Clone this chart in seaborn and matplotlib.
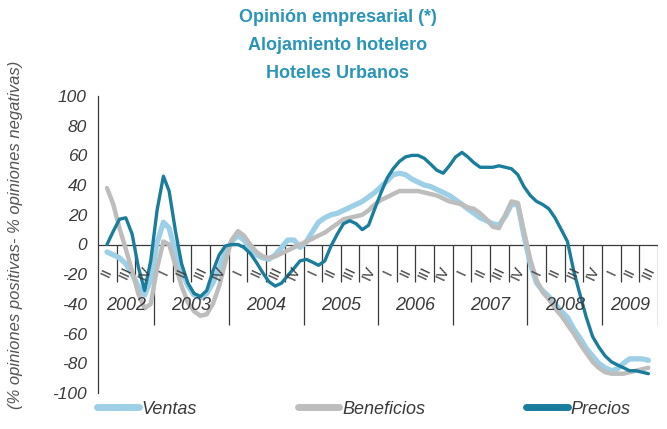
import matplotlib
matplotlib.use("Agg")
import matplotlib.pyplot as plt
import matplotlib.dates as mdates
from matplotlib.lines import Line2D
import numpy as np
import pandas as pd
import seaborn as sns

# ---------------------------------------------------------------------------
# Data (monthly, May 2002 - Aug 2009)
# ---------------------------------------------------------------------------
months = pd.date_range("2002-05-01", periods=88, freq="MS") + pd.Timedelta(days=14)

ventas = [
    -5, -7, -9, -13, -20, -28, -34, -24, 1, 15, 11, -5,
    -18, -28, -34, -36, -33, -26, -16, -5, 2, 6, 3, -3,
    -7, -9, -10, -7, -2, 3, 3, -2, 2, 9, 15, 18,
    20, 21, 23, 25, 27, 29, 32, 35, 39, 43, 47, 48,
    47, 44, 42, 40, 39, 37, 35, 33, 30, 27, 24, 21,
    18, 16, 14, 13, 19, 27, 27, 6, -13, -26, -31, -35,
    -40, -45, -49, -57, -63, -70, -75, -80, -83, -85, -84, -80,
    -77, -77, -77, -78,
]
beneficios = [
    38, 27, 11, -3, -18, -33, -43, -40, -16, 2, 0, -14,
    -28, -39, -45, -48, -47, -40, -28, -12, 3, 9, 6, 0,
    -5, -8, -9, -8, -6, -4, -2, 0, 2, 4, 6, 8,
    11, 14, 17, 18, 19, 20, 23, 27, 30, 32, 34, 36,
    36, 36, 36, 35, 34, 33, 31, 29, 28, 27, 25, 24,
    21, 17, 12, 11, 20, 29, 28, 9, -10, -24, -32, -37,
    -43, -48, -54, -60, -67, -73, -79, -83, -86, -87, -87, -87,
    -86, -85, -84, -83,
]
precios = [
    0, 9, 17, 18, 7, -15, -31, -11, 23, 46, 36, 9,
    -13, -26, -33, -35, -31, -18, -7, -1, 0, 0, -2, -6,
    -12, -19, -25, -28, -26, -21, -16, -11, -10, -12, -14, -11,
    -1, 7, 14, 16, 14, 10, 13, 24, 35, 45, 51, 56,
    59, 60, 60, 58, 54, 50, 48, 53, 59, 62, 59, 55,
    52, 52, 52, 53, 52, 51, 47, 39, 33, 29, 27, 24,
    18, 10, 2, -18, -34, -49, -62, -69, -75, -79, -81, -83,
    -85, -85, -86, -87,
]

series_names = ["Ventas", "Beneficios", "Precios"]
series_values = [ventas, beneficios, precios]
series_colors = ["#9dcfe6", "#bdbdbd", "#1b7d9c"]
series_widths = [3.8, 3.2, 2.4]

years = [2002, 2003, 2004, 2005, 2006, 2007, 2008, 2009]
quarter_names = ["I", "II", "III", "IV"]
x_start = pd.Timestamp("2002-04-01")
x_end = pd.Timestamp("2009-10-01")

title_lines = ["Opinión empresarial (*)", "Alojamiento hotelero", "Hoteles Urbanos"]
title_color = "#2a95b8"
axis_color = "#3a3a3a"

# ---------------------------------------------------------------------------
# Figure
# ---------------------------------------------------------------------------
sns.set_style("white")
plt.rcParams["font.family"] = ["Liberation Sans", "DejaVu Sans"]
plt.rcParams["axes.unicode_minus"] = False

fig = plt.figure(figsize=(6.67, 4.29), dpi=100)
ax = fig.add_axes([98 / 667, 36 / 429, 560 / 667, 297 / 429])

for name, vals, col, lw in zip(series_names, series_values, series_colors, series_widths):
    sns.lineplot(x=months, y=vals, ax=ax, color=col, linewidth=lw,
                 solid_capstyle="round", solid_joinstyle="round", zorder=3)

ax.set_xlim(x_start, x_end)
ax.set_ylim(-100, 100)
ax.set_yticks(np.arange(-100, 101, 20))
ax.set_xticks([])
ax.set_xlabel("")
ax.set_ylabel("")
for side in ["top", "right", "bottom"]:
    ax.spines[side].set_visible(False)
ax.spines["left"].set_color(axis_color)
ax.spines["left"].set_linewidth(0.9)
ax.tick_params(axis="y", direction="out", length=5, width=0.9,
               color=axis_color, labelsize=12.5, labelcolor=axis_color, pad=3)
for lab in ax.get_yticklabels():
    lab.set_fontstyle("italic")

# category axis drawn on the zero line
ax.axhline(0, color=axis_color, linewidth=0.9, zorder=2)
q_bounds = pd.date_range("2002-07-01", "2009-07-01", freq="QS")
y_bounds = [pd.Timestamp(f"{y}-01-01") for y in years[1:]] + [x_end]
ax.vlines([mdates.date2num(q) for q in q_bounds if q.month != 1], -25, 0,
          color=axis_color, linewidth=0.9, zorder=2)
ax.vlines([mdates.date2num(b) for b in y_bounds], -54, 0,
          color=axis_color, linewidth=0.9, zorder=2)

seg_starts = [x_start] + y_bounds[:-1]
for yr, s, e in zip(years, seg_starts, y_bounds):
    mid = mdates.date2num(s) + (mdates.date2num(e) - mdates.date2num(s)) / 2
    ax.text(mid, -41, str(yr), ha="center", va="center", fontsize=13,
            style="italic", color=axis_color)

for q in pd.date_range(x_start, "2009-07-01", freq="QS"):
    mid = mdates.date2num(q + pd.Timedelta(days=45))
    ax.text(mid, -19, quarter_names[(q.month - 1) // 3], ha="center", va="center",
            fontsize=10.5, rotation=65, color=axis_color, rotation_mode="anchor")

# titles and axis label
for i, line in enumerate(title_lines):
    fig.text(338 / 667, 1 - (17 + 28.5 * i) / 429, line, ha="center", va="center",
             fontsize=13, fontweight="bold", color=title_color)

fig.text(16 / 667, 1 - 235 / 429, "(% opiniones positivas- % opiniones negativas)",
         rotation=90, ha="center", va="center", fontsize=12, style="italic",
         color="#555555")

# legend
handles = [Line2D([0], [0], color=c, linewidth=5, solid_capstyle="round")
           for c in series_colors]
leg = fig.legend(handles, series_names, loc="center left",
                 bbox_to_anchor=(97 / 667, 1 - 409 / 429), ncol=3, frameon=False,
                 fontsize=13, handlelength=2.3, handletextpad=0.15,
                 columnspacing=5.6, borderpad=0, borderaxespad=0)
for t in leg.get_texts():
    t.set_fontstyle("italic")
    t.set_color(axis_color)

fig.savefig("out.png", dpi=100)
